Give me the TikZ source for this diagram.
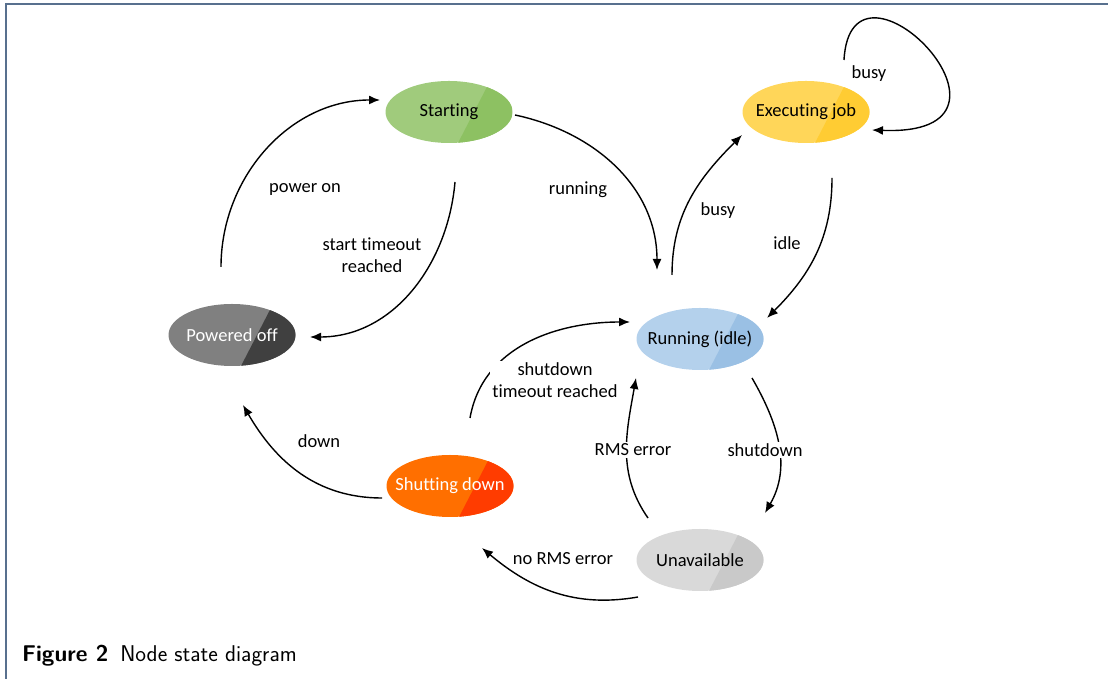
\documentclass[tikz,border=0pt]{standalone}
\usepackage{fontspec}
\newfontfamily\carl[Ligatures={NoCommon}]{Carlito}
\usetikzlibrary{shapes.geometric,arrows.meta}
\definecolor{stA}{RGB}{160,203,124}
\definecolor{stB}{RGB}{141,193,98}
\definecolor{exA}{RGB}{255,214,89}
\definecolor{exB}{RGB}{255,204,51}
\definecolor{poA}{RGB}{128,128,128}
\definecolor{poB}{RGB}{64,64,64}
\definecolor{ruA}{RGB}{180,209,236}
\definecolor{ruB}{RGB}{154,192,228}
\definecolor{sdA}{RGB}{255,111,0}
\definecolor{sdB}{RGB}{255,60,0}
\definecolor{unA}{RGB}{217,217,217}
\definecolor{unB}{RGB}{201,201,201}
\definecolor{framec}{RGB}{88,112,142}
\begin{document}
\begin{tikzpicture}[x=1pt,y=1pt,
  state/.style 2 args={ellipse, minimum width=127pt, minimum height=62pt, inner sep=0pt,
    fill=#1,
    path picture={\fill[#2] ([xshift=41pt]path picture bounding box.north) -- ([xshift=9pt]path picture bounding box.south) -- (path picture bounding box.south east) -- (path picture bounding box.north east) -- cycle;}},
  stext/.style={font=\carl\fontsize{18.5}{22}\selectfont, inner sep=0pt},
  lbl/.style={font=\carl\fontsize{18.5}{22}\selectfont, align=center, inner sep=2pt, fill=white},
  arr/.style={line width=1.4pt, -{Latex[length=11pt,width=9pt]}}
]
\useasboundingbox (0,0) rectangle (1108,679);
\draw[framec, line width=1.6pt] (1108,675) -- (6,675) -- (6,0);

\node[state={stA}{stB}, label={[stext]center:Starting}] (st) at (449,567) {};
\node[state={exA}{exB}, label={[stext]center:Executing job}] (ex) at (806,567) {};
\node[state={poA}{poB}, label={[stext, text=white]center:Powered off}] (po) at (232,344) {};
\node[state={ruA}{ruB}, label={[stext]center:Running (idle)}] (ru) at (700,340) {};
\node[state={sdA}{sdB}, label={[stext, text=white]center:Shutting down}] (sd) at (450,193) {};
\node[state={unA}{unB}, label={[stext]center:Unavailable}] (un) at (700,119) {};

\draw[arr] ([shift={(-11,68)}]po.center) to[out=90,in=180] ([shift={(-69,12)}]st.center);
\draw[arr] ([shift={(6,-70)}]st.center) to[out=-95,in=0] ([shift={(78,-2)}]po.center);
\draw[arr] ([shift={(66,-3)}]st.center) to[out=-12,in=90] ([shift={(-43,69)}]ru.center);
\draw[arr] ([shift={(-28,64)}]ru.center) to[out=90,in=225] ([shift={(-64,-23)}]ex.center);
\draw[arr] ([shift={(26,-66)}]ex.center) to[out=-90,in=45] ([shift={(67,21)}]ru.center);
\draw[arr] ([shift={(38,52)}]ex.center) .. controls ([shift={(45,180)}]ex.center) and ([shift={(245,-25)}]ex.center) .. ([shift={(66,-18)}]ex.center);
\draw[arr] ([shift={(20,68)}]sd.center) to[out=80,in=180] ([shift={(-70,17)}]ru.center);
\draw[arr] ([shift={(52,-39)}]ru.center) to[out=-60,in=60] ([shift={(65,47)}]un.center);
\draw[arr] ([shift={(-52,42)}]un.center) to[out=125,in=-100] ([shift={(-64,-39)}]ru.center);
\draw[arr] ([shift={(-62,-37)}]un.center) to[out=190,in=-40] ([shift={(32,-62)}]sd.center);
\draw[arr] ([shift={(-68,-12)}]sd.center) to[out=180,in=-60] ([shift={(11,-70)}]po.center);

\node[lbl] (l1) at (305,489) {power on};
\node[lbl] (l2) at (372,424) {start timeout\\reached};
\node[lbl] (l3) at (578,489) {running};
\node[lbl] (l4) at (718,468) {busy};
\node[lbl] (l5) at (787,436) {idle};
\node[lbl] (l6) at (869,605) {busy};
\node[lbl] (l7) at (555,299) {shutdown\\timeout reached};
\node[lbl] (l8) at (765,229) {shutdown};
\node[lbl] (l9) at (633,229) {RMS error};
\node[lbl] (l10) at (563,120) {no RMS error};
\node[lbl] (l11) at (319,238) {down};

\node[anchor=base west, inner sep=0pt, font=\sffamily\fontsize{22.8}{26}\selectfont] (cap) at (22,17) {\textbf{Figure 2}\hspace{12pt}Node state diagram};
\end{tikzpicture}
\end{document}
